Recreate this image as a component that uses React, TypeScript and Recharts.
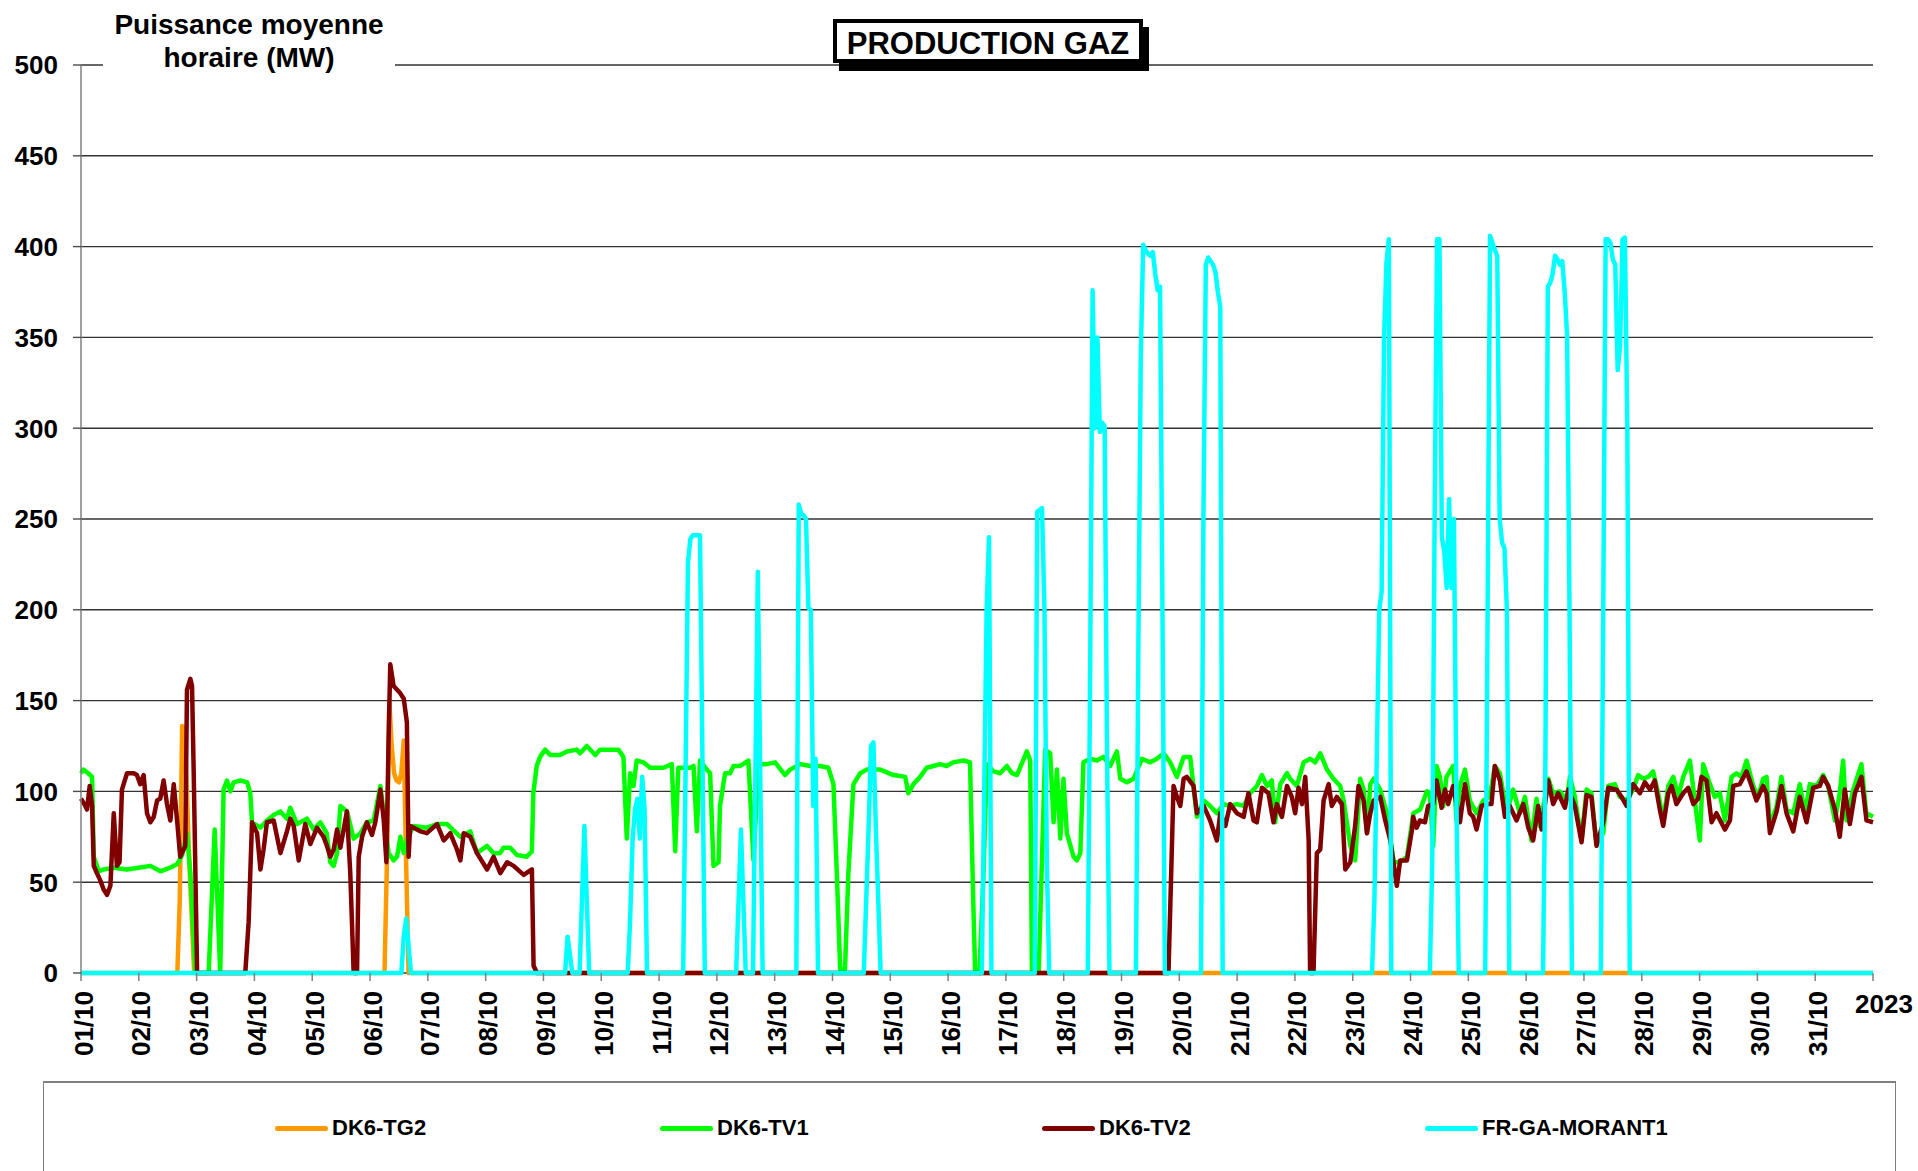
import { LineChart, Line, XAxis, YAxis, CartesianGrid } from 'recharts';

const dayLabels = [
  '01/10', '02/10', '03/10', '04/10', '05/10', '06/10', '07/10', '08/10', '09/10', '10/10',
  '11/10', '12/10', '13/10', '14/10', '15/10', '16/10', '17/10', '18/10', '19/10', '20/10',
  '21/10', '22/10', '23/10', '24/10', '25/10', '26/10', '27/10', '28/10', '29/10', '30/10',
  '31/10', '2023',
];
const yTicks = [0, 50, 100, 150, 200, 250, 300, 350, 400, 450, 500];

// [heure depuis le 01/10 00h, MW]
const tg2: [number, number][] = [
  [0, 0], [40, 0], [41, 40], [42, 136], [43, 135], [45, 60], [47, 0],
  [126, 0], [127, 60], [128, 150], [129, 125], [130, 110], [131, 106], [132, 105], [133, 110],
  [134, 128], [135, 60], [136, 0], [744, 0],
];

const tv1: [number, number][] = [
  [0, 110], [1, 112], [3, 110], [4.6, 108], [5.3, 64], [6.6, 59], [7.3, 56], [9.4, 57], [13.6, 58],
  [19, 57], [24, 58], [28.8, 59], [33, 56], [37, 58], [40, 60], [42, 65], [44, 77], [45.4, 55],
  [47.5, 0], [53, 0], [55.5, 79], [57.8, 0], [59.2, 101], [60.6, 106], [62, 100], [63.4, 105],
  [66.2, 106], [69, 105], [70.3, 99], [71, 83], [74.5, 80], [77.2, 84], [80, 87], [82.8, 89],
  [85.5, 85], [86.9, 91], [89.7, 82], [93.8, 85], [96.6, 79], [99.4, 83], [102, 77], [103.5, 61],
  [104.9, 59], [106.3, 66], [107.7, 92], [110.4, 89], [113.2, 74], [116, 77], [118.7, 83],
  [121.5, 84], [124.3, 103], [125.7, 88], [127.7, 66], [129.8, 62], [131.2, 64], [132.6, 75],
  [134, 66], [135.3, 73], [138, 81], [143.6, 80], [147.8, 82], [152, 82], [157.5, 75], [161.6, 78],
  [164.4, 66], [168.6, 70], [171.3, 66], [174, 66], [175.4, 69], [178.2, 69], [181, 65], [185, 64],
  [187.2, 67], [187.8, 99], [189.2, 114], [190.6, 119], [192.7, 123], [194.8, 120], [198.9, 120],
  [201.7, 122], [205.8, 123], [207.2, 121], [210, 125], [213.5, 120], [215.5, 123], [223.1, 123],
  [225.2, 119], [226.6, 74], [228, 110], [229.4, 103], [230.7, 117], [233.5, 116], [236.3, 113],
  [241.8, 113], [245.3, 115], [246.7, 67], [248, 113], [252.9, 113], [254.3, 114], [255.7, 78],
  [257, 117], [259.8, 112], [261.2, 110], [262.6, 59], [264.7, 61], [265.3, 92], [267.4, 110],
  [269.5, 110], [270.9, 114], [273.7, 114], [277.1, 117], [279.2, 62], [281.3, 115], [284.7, 115],
  [288.2, 116], [292.3, 109], [294.4, 112], [298.6, 115], [302.7, 114], [306.9, 114], [310.3, 113],
  [312.4, 104], [313.8, 55], [315.2, 2], [317.2, 2], [318.6, 55], [320.7, 104], [323.5, 110],
  [326.2, 112], [331.8, 112], [337.3, 109], [342.2, 108], [343.5, 99], [345.6, 104], [348.4, 108],
  [351.1, 113], [353.9, 114], [356.7, 115], [359.4, 114], [362.2, 116], [366.4, 117], [369.1, 116],
  [370.5, 37], [371.2, 2], [373, 0], [374.7, 55], [376.1, 115], [378.9, 111], [381.6, 110],
  [384.4, 114], [386.5, 110], [388.6, 109], [392.7, 122], [394.1, 117], [394.8, 2], [397.6, 0],
  [400.3, 123], [402.4, 121], [403.8, 83], [405.2, 112], [406.6, 74], [407.9, 107], [409.3, 77],
  [412.1, 64], [413.5, 62], [414.9, 66], [416.2, 116], [419, 118], [421.8, 117], [424.5, 119],
  [427.3, 114], [430.1, 122], [431.5, 107], [434.2, 105], [437, 107], [440.5, 118], [443.9, 116],
  [446.7, 118], [449.5, 121], [452.2, 116], [455, 108], [457.8, 119], [460.5, 119], [463.3, 86],
  [466.1, 95], [468.8, 92], [471.6, 88], [474.4, 93], [477.1, 92], [479.9, 93], [482.7, 92],
  [485.4, 99], [488.2, 103], [490.3, 109], [492.4, 103], [494.4, 106], [495.8, 83], [497.9, 104],
  [500.7, 110], [502, 107], [504.8, 103], [507.6, 116], [510.3, 118], [512.4, 116], [514.5, 121],
  [517.3, 112], [520, 107], [522.8, 103], [524.2, 95], [527, 70], [529, 62], [531.1, 107],
  [532.5, 101], [533.9, 77], [535.3, 104], [536.7, 107], [539.4, 101], [542.2, 88], [545, 61],
  [547.7, 61], [550.5, 64], [553.2, 88], [556, 90], [558.8, 100], [560, 99], [561.4, 70],
  [562.8, 114], [564.2, 108], [565.6, 92], [566.9, 108], [569.7, 114], [571.1, 84], [572.5, 103],
  [574.6, 112], [576.6, 95], [579.4, 88], [582.2, 95], [584.9, 97], [587, 114], [589.1, 110],
  [591.9, 88], [594.6, 101], [597.4, 88], [599.5, 97], [602.2, 73], [604.3, 96], [605.7, 81],
  [609.2, 107], [611.2, 99], [614, 100], [616.8, 95], [618.2, 108], [620.2, 97], [623, 73],
  [625.1, 101], [627.1, 99], [629.2, 71], [632, 77], [634.1, 103], [636.8, 104], [638.9, 97],
  [641.7, 95], [644.4, 101], [646.5, 109], [648.6, 107], [650.7, 108], [652.7, 111], [654.8, 99],
  [656.9, 84], [659, 103], [661.1, 108], [663.1, 97], [665.2, 108], [668, 117], [670, 95],
  [672.1, 73], [673.5, 115], [676.3, 104], [678.3, 97], [680.4, 99], [682.5, 84], [685.3, 108],
  [687.3, 110], [689.4, 108], [691.5, 117], [694.3, 103], [696.3, 97], [698.4, 107], [699.8, 108],
  [701.2, 81], [704, 92], [706, 108], [708.1, 90], [710.9, 88], [713.6, 104], [715.7, 88],
  [717.8, 104], [720.6, 103], [723.3, 109], [725.4, 103], [728.2, 84], [730.2, 99], [731.6, 117],
  [733, 84], [735.8, 101], [739.2, 115], [741.2, 88], [744, 86],
];

const tv2: [number, number][] = [
  [0, 96], [1.8, 92], [2.5, 90], [3.6, 103], [4.6, 92], [5.3, 59], [6.6, 55], [8, 51], [9.4, 46],
  [10.8, 43], [12.2, 48], [13.6, 88], [14.9, 59], [16, 61], [17, 101], [19.1, 110], [21.9, 110],
  [23.2, 109], [24.6, 104], [26, 109], [27.4, 88], [28.8, 83], [30.2, 86], [31.6, 95], [32.9, 96],
  [34.3, 106], [35.7, 93], [37.1, 84], [38.5, 104], [39.9, 84], [41.2, 64], [43.3, 70], [44, 156],
  [45.4, 162], [46.1, 158], [46.8, 110], [48.2, 0], [68.2, 0], [69.6, 28], [71, 83], [73.1, 77],
  [74.5, 57], [75.8, 68], [77.2, 83], [80, 84], [82.8, 66], [85.5, 78], [86.9, 85], [88.3, 81],
  [90.4, 62], [93.1, 82], [95.2, 71], [98, 80], [100.7, 75], [102.1, 70], [103.5, 64], [104.9, 68],
  [106.3, 79], [107.7, 69], [110.4, 89], [111.8, 55], [113.2, 0], [114.6, 0], [115.3, 64],
  [116.7, 75], [118.7, 83], [120.8, 76], [122.2, 83], [124.3, 101], [125.7, 84], [126.8, 61],
  [127.7, 128], [128.4, 170], [129.8, 158], [132.6, 154], [134, 151], [135.3, 138], [136, 64],
  [136.7, 81], [140.9, 78], [143.6, 77], [147.8, 82], [150.6, 73], [153.3, 77], [156.1, 68],
  [157.5, 62], [158.9, 77], [161.6, 75], [164.4, 66], [168.6, 57], [171.3, 64], [174.1, 55],
  [176.9, 61], [179.6, 59], [183.8, 54], [187.2, 57], [187.9, 4], [189.3, 0], [451.5, 0],
  [453.6, 103], [455, 97], [456.4, 92], [457.8, 107], [459.1, 108], [461.9, 103], [463.3, 88],
  [466.1, 92], [468.8, 84], [471.6, 73], [473, 88], [475.1, 81], [477.1, 93], [479.9, 88],
  [482.7, 86], [484.7, 99], [486.8, 84], [488.2, 83], [490.3, 102], [493, 99], [495.1, 83],
  [496.5, 93], [498.6, 86], [500.7, 103], [502.7, 97], [504.1, 88], [505.5, 102], [506.9, 93],
  [508.3, 108], [509.7, 73], [510.3, 0], [511.7, 0], [513.1, 66], [514.5, 68], [515.9, 95],
  [518, 104], [519.3, 92], [521.4, 97], [523.5, 93], [524.9, 57], [527, 61], [529, 81],
  [530.4, 103], [532.5, 95], [533.9, 77], [535.3, 88], [536.7, 95], [539.4, 97], [541.5, 84],
  [543.6, 73], [546.3, 48], [547.7, 62], [550.5, 62], [552.6, 79], [553.1, 86], [554.5, 80],
  [555.9, 84], [558, 83], [559.3, 92], [561.4, 93], [562.8, 106], [564.9, 91], [566.3, 101],
  [567.6, 93], [569.7, 103], [571.1, 93], [572.5, 83], [574.6, 104], [576.6, 88], [578, 86],
  [579.4, 79], [581.5, 92], [583.6, 93], [585.6, 93], [587, 114], [589.1, 106], [591.2, 86],
  [593.2, 92], [596, 84], [598.8, 93], [600.9, 80], [602.9, 73], [605, 92], [606.4, 79],
  [609.2, 106], [611.2, 93], [613.3, 99], [616.1, 91], [617.5, 101], [620.2, 92], [623, 72],
  [625.1, 98], [627.1, 97], [629.2, 70], [632, 83], [634.1, 102], [637.5, 101], [639.6, 97],
  [641.7, 92], [644.4, 104], [647.2, 99], [649.3, 105], [651.4, 101], [653.4, 106], [655.5, 90],
  [656.9, 81], [659, 99], [660.4, 103], [662.4, 93], [665.2, 99], [667.3, 102], [669.4, 93],
  [671.4, 96], [672.8, 108], [674.9, 106], [677, 83], [679, 88], [682.5, 79], [684.6, 84],
  [686, 103], [688.7, 104], [691.5, 111], [693.6, 103], [695.6, 95], [698.4, 103], [699.8, 99],
  [701.2, 77], [704, 89], [706, 103], [708.1, 88], [710.9, 78], [713.6, 97], [716.4, 83],
  [719.2, 102], [721.9, 103], [723.3, 108], [725.4, 103], [728.2, 90], [730.2, 75], [732.3, 101],
  [734.4, 82], [736.5, 99], [739.2, 108], [741.3, 84], [744, 83],
];

const morant: [number, number][] = [
  [0, 0], [133, 0], [134, 20], [135, 30], [136, 15], [137, 0],
  [201, 0], [202, 20], [204, 0], [207, 0], [209, 81], [211, 0],
  [227, 0], [228, 30], [229, 73], [230, 90], [231, 96], [232, 74], [233, 108], [234, 90], [235, 0],
  [250, 0], [251, 110], [252, 226], [253, 239], [254, 241], [257, 241], [258, 120], [259, 0],
  [272, 0], [274, 79], [276, 0], [279, 0], [281, 221], [283, 0],
  [297, 0], [298, 258], [299, 253], [300, 252], [301, 250], [302, 201], [303, 200], [304, 92],
  [305, 118], [306, 0],
  [325, 0], [327, 80], [328, 125], [329, 127], [330, 80], [332, 0],
  [374, 0], [376, 200], [377, 240], [378, 0],
  [396, 0], [397, 254], [399, 256], [400, 200], [401, 60], [402, 0],
  [418, 0], [419, 170], [420, 376], [421, 300], [422, 350], [423, 298], [424, 303], [425, 301],
  [426, 120], [427, 0],
  [438, 0], [439, 180], [440, 340], [441, 401], [442, 398], [443, 396], [444, 395], [445, 397],
  [446, 385], [447, 376], [448, 378], [449, 200], [450, 0],
  [465, 0], [466, 250], [467, 390], [468, 394], [469, 392], [470, 390], [471, 386], [472, 375],
  [473, 367], [474, 0],
  [536, 0], [537, 40], [538, 120], [539, 200], [540, 210], [541, 350], [542, 391], [543, 404], [544, 0],
  [560, 0], [561, 60], [562, 250], [563, 404], [564, 404], [565, 240], [566, 232], [567, 212],
  [568, 261], [569, 212], [570, 250], [571, 100], [572, 0],
  [583, 0], [584, 200], [585, 406], [586, 402], [587, 398], [588, 395], [589, 250], [590, 237],
  [591, 234], [592, 200], [593, 0],
  [607, 0], [608, 120], [609, 378], [610, 380], [611, 385], [612, 395], [613, 393], [614, 390],
  [615, 392], [616, 375], [617, 351], [618, 200], [619, 0],
  [631, 0], [632, 200], [633, 404], [634, 404], [635, 402], [636, 393], [637, 390], [638, 332],
  [639, 345], [640, 404], [641, 405], [642, 300], [643, 0],
  [744, 0],
];

const series = [
  { name: 'DK6-TG2', color: '#FF9900', points: tg2, legendX: 275 },
  { name: 'DK6-TV1', color: '#00FF00', points: tv1, legendX: 660 },
  { name: 'DK6-TV2', color: '#800000', points: tv2, legendX: 1042 },
  { name: 'FR-GA-MORANT1', color: '#00FFFF', points: morant, legendX: 1425 },
];

const font = "'Liberation Sans', Arial, sans-serif";
const xTicks = dayLabels.map((_, i) => i * 24);

function DayTick(props: any) {
  const { x, y, payload } = props;
  const label = dayLabels[Math.round(payload.value / 24)];
  if (label === '2023') {
    return (
      <text x={x + 11} y={y + 21} textAnchor="middle" dominantBaseline="central"
        fontFamily={font} fontWeight="bold" fontSize={26} fill="#000">
        {label}
      </text>
    );
  }
  return (
    <text transform={`translate(${x + 2.5},${y + 8}) rotate(-90)`} textAnchor="end"
      dominantBaseline="central" fontFamily={font} fontWeight="bold" fontSize={26} fill="#000">
      {label}
    </text>
  );
}

function ValueTick(props: any) {
  const { x, y, payload } = props;
  return (
    <text x={x - 13} y={y} dy="0.36em" textAnchor="end" fontFamily={font}
      fontWeight="bold" fontSize={26} fill="#000">
      {payload.value}
    </text>
  );
}

export default function App() {
  return (
    <div style={{ position: 'absolute', left: 0, top: 0, width: 1918, height: 1171, background: '#fff', overflow: 'hidden' }}>
      <LineChart width={1918} height={1171} margin={{ top: 65, right: 45, left: 0, bottom: 0 }}>
        <CartesianGrid vertical={false} stroke="#333" strokeWidth={1.4} />
        <XAxis
          dataKey="h"
          type="number"
          domain={[0, 744]}
          ticks={xTicks}
          interval={0}
          height={198}
          tick={<DayTick />}
          tickSize={8}
          axisLine={false}
          tickLine={{ stroke: '#808080', strokeWidth: 1.5 }}
        />
        <YAxis
          type="number"
          domain={[0, 500]}
          ticks={yTicks}
          interval={0}
          width={81}
          tick={<ValueTick />}
          tickSize={8}
          axisLine={{ stroke: '#808080', strokeWidth: 1.5 }}
          tickLine={{ stroke: '#4d4d4d', strokeWidth: 1.4 }}
        />
        {series.map((s) => (
          <Line
            key={s.name}
            name={s.name}
            data={s.points.map(([h, v]) => ({ h, v }))}
            dataKey="v"
            type="linear"
            stroke={s.color}
            strokeWidth={4.5}
            strokeLinejoin="round"
            dot={false}
            activeDot={false}
            isAnimationActive={false}
          />
        ))}
      </LineChart>

      <div style={{
        position: 'absolute', left: 103, top: 4, width: 292, height: 72, background: '#fff',
        fontFamily: font, fontWeight: 'bold', fontSize: 28, lineHeight: '33px', textAlign: 'center',
        paddingTop: 4, boxSizing: 'border-box', color: '#000',
      }}>
        Puissance moyenne<br />horaire (MW)
      </div>

      <div style={{
        position: 'absolute', left: 833, top: 19, width: 310, height: 44, boxSizing: 'border-box',
        border: '4px solid #000', background: '#fff', boxShadow: '6px 8px 0 #000', paddingTop: 3,
        fontFamily: font, fontWeight: 'bold', fontSize: 31, lineHeight: '36px', textAlign: 'center', color: '#000',
      }}>
        PRODUCTION GAZ
      </div>

      <div style={{
        position: 'absolute', left: 43, top: 1081, width: 1853, height: 140, boxSizing: 'border-box',
        borderTop: '2px solid #7f7f7f', borderLeft: '1.5px solid #7f7f7f', borderRight: '1.5px solid #7f7f7f',
        background: '#fff',
      }} />
      {series.map((s) => (
        <div key={s.name} style={{ position: 'absolute', left: s.legendX, top: 1114, height: 28, display: 'flex', alignItems: 'center' }}>
          <div style={{ width: 53, height: 5, borderRadius: 3, background: s.color }} />
          <span style={{ marginLeft: 4, fontFamily: font, fontWeight: 'bold', fontSize: 22, color: '#000' }}>{s.name}</span>
        </div>
      ))}
    </div>
  );
}
